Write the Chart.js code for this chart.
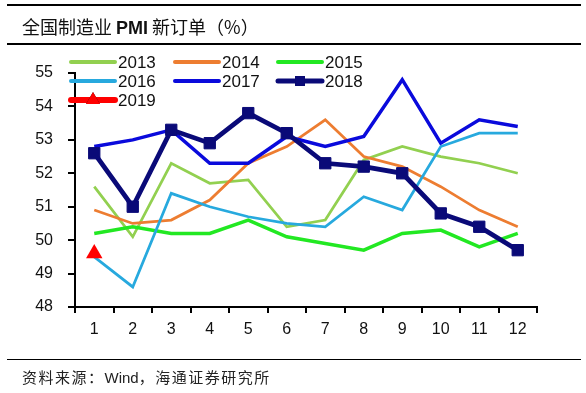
<!DOCTYPE html>
<html>
<head>
<meta charset="utf-8">
<script src="https://cdn.jsdelivr.net/npm/chart.js@4/dist/chart.umd.min.js"></script>
<style>
  html, body { margin: 0; padding: 0; background: #fff; }
  #wrap { position: relative; width: 586px; height: 393px; overflow: hidden; }
  #chart { position: absolute; left: 0; top: 0; }
  .rule { position: absolute; left: 7px; width: 574px; height: 0; border-top: 2px solid #000; }
  #title {
    position: absolute; left: 22px; top: 13px; line-height: 24px;
    font: 18px "Noto Sans CJK SC", sans-serif; color: #111; white-space: nowrap;
  }
  #title b { font-family: "Liberation Sans", Arial, sans-serif; font-weight: bold; }
  #source {
    position: absolute; left: 22px; top: 367px; line-height: 20px; letter-spacing: 1.5px;
    font-size: 15px; font-family: "Noto Sans CJK SC", sans-serif; color: #222; white-space: nowrap;
  }
  #source span { font-family: "Liberation Sans", Arial, sans-serif; letter-spacing: 0; }
</style>
</head>
<body>
<div id="wrap">
  <canvas id="chart" width="586" height="393"></canvas>
  <div class="rule" style="top:4px"></div>
  <div id="title">全国制造业 <b>PMI</b> 新订单（%）</div>
  <div class="rule" style="top:43px"></div>
  <div class="rule" style="top:359px;border-top-width:1.5px"></div>
  <div id="source">资料来源：<span>Wind</span>，海通证券研究所</div>
</div>
<script>
// ---- data ----
const months = ["1", "2", "3", "4", "5", "6", "7", "8", "9", "10", "11", "12"];
const years = ["2013", "2014", "2015", "2016", "2017", "2018", "2019"];

const pmi2013 = [51.6, 50.1, 52.3, 51.7, 51.8, 50.4, 50.6, 52.4, 52.8, 52.5, 52.3, 52.0];
const pmi2014 = [50.9, 50.5, 50.6, 51.2, 52.3, 52.8, 53.6, 52.5, 52.2, 51.6, 50.9, 50.4];
const pmi2015 = [50.2, 50.4, 50.2, 50.2, 50.6, 50.1, 49.9, 49.7, 50.2, 50.3, 49.8, 50.2];
const pmi2016 = [49.5, 48.6, 51.4, 51.0, 50.7, 50.5, 50.4, 51.3, 50.9, 52.8, 53.2, 53.2];
const pmi2017 = [52.8, 53.0, 53.3, 52.3, 52.3, 53.1, 52.8, 53.1, 54.8, 52.9, 53.6, 53.4];
const pmi2018 = [52.6, 51.0, 53.3, 52.9, 53.8, 53.2, 52.3, 52.2, 52.0, 50.8, 50.4, 49.7];
const pmi2019 = [49.6];

const yMin = 48, yMax = 55;

// ---- styles ----
const colors = ["#92D050", "#ED7D31", "#22E822", "#27A9DE", "#0A0ADC", "#0A0A78", "#FF0000"];
const series = [pmi2013, pmi2014, pmi2015, pmi2016, pmi2017, pmi2018, pmi2019];
const widths = [2.75, 2.75, 3.5, 2.75, 3.5, 4.75, 3];

const datasets = series.map((vals, i) => ({
  label: years[i],
  data: vals,
  borderColor: colors[i],
  backgroundColor: colors[i],
  borderWidth: widths[i],
  tension: 0,
  fill: false,
  pointRadius: 0,
  order: series.length - i,
}));
// 2018: squares, 2019: triangle
Object.assign(datasets[5], { pointStyle: "rect", pointRadius: 8, pointBorderWidth: 1 });
Object.assign(datasets[6], { pointStyle: "triangle", pointRadius: 9.5, pointBorderWidth: 0 });

// legend drawn in three columns at the top-left of the plot
const legendCols = [71, 175, 278];
const legendRows = [62, 81, 100];

const gridLegend = {
  id: "gridLegend",
  afterDraw(chart) {
    const ctx = chart.ctx;
    ctx.save();
    ctx.font = '17px "Liberation Sans", Arial, sans-serif';
    ctx.textBaseline = "middle";
    chart.data.datasets.forEach((ds, i) => {
      const x = legendCols[i % 3], y = legendRows[Math.floor(i / 3)];
      ctx.strokeStyle = ds.borderColor;
      ctx.lineWidth = i === 6 ? 6 : i === 5 ? 5 : 4;
      ctx.lineCap = "round";
      ctx.beginPath();
      ctx.moveTo(x, y);
      ctx.lineTo(x + 44, y);
      ctx.stroke();
      if (ds.pointStyle) {
        Chart.helpers.drawPoint(ctx, { pointStyle: ds.pointStyle, radius: ds.pointStyle === "rect" ? 7 : 8, borderWidth: 0 }, x + 22, y);
        ctx.fillStyle = ds.backgroundColor;
        ctx.fill();
      }
      ctx.fillStyle = "#111";
      ctx.fillText(ds.label, x + 47, y + 1);
    });
    ctx.restore();
  },
};

new Chart(document.getElementById("chart"), {
  type: "line",
  data: { labels: months, datasets },
  options: {
    responsive: false,
    animation: false,
    layout: { padding: { left: 0, right: 49, top: 73, bottom: 46 } },
    plugins: { legend: { display: false }, tooltip: { enabled: false } },
    scales: {
      x: {
        offset: true,
        grid: { offset: true, drawOnChartArea: false, color: "#000", lineWidth: 2, tickLength: 6 },
        border: { color: "#000", width: 2 },
        ticks: { color: "#111", padding: 7, font: { family: '"Liberation Sans", Arial', size: 16 } },
        afterFit(s) { s.height = 40; },
      },
      y: {
        min: yMin,
        max: yMax,
        grid: { drawOnChartArea: false, color: "#000", lineWidth: 2, tickLength: 7 },
        border: { color: "#000", width: 2 },
        ticks: { stepSize: 1, color: "#111", padding: 15, font: { family: '"Liberation Sans", Arial', size: 16 } },
        afterFit(s) { s.width = 75; },
      },
    },
  },
  plugins: [gridLegend],
});
</script>
</body>
</html>
